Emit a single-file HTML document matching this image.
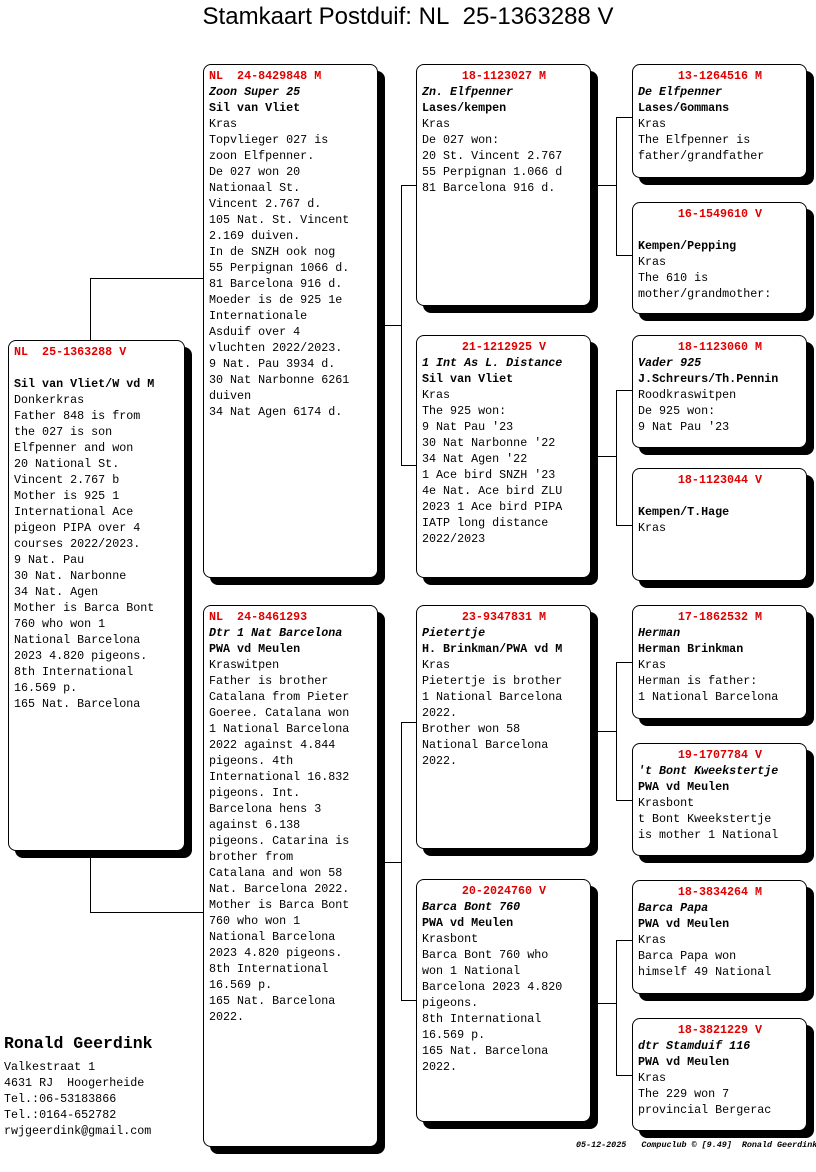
<!DOCTYPE html>
<html><head><meta charset="utf-8"><style>
body{margin:0;width:816px;height:1172px;background:#fff;position:relative;overflow:hidden;font-family:"Liberation Mono","Courier New",monospace;font-size:11.7px;color:#000}
.t{position:absolute;left:0;top:3px;width:816px;text-align:center;font-family:"Liberation Sans",sans-serif;font-size:24px}
.b{position:absolute;border:1px solid #000;border-radius:8px;box-shadow:7px 7px 0 #000;background:#fff;padding:3px 4px 0 5px;box-sizing:border-box;line-height:16px;white-space:pre;overflow:hidden}
.h{color:#e00000;font-weight:bold;text-align:center}
.hl{color:#e00000;font-weight:bold}
.bo{font-weight:bold}
.i{font-style:italic;font-weight:bold}
.l{position:absolute;background:#000}
.f{position:absolute;font-size:11.7px;line-height:16px;white-space:pre}
</style></head><body>
<div class="t">Stamkaart Postduif: NL&nbsp; 25-1363288 V</div>

<!-- connectors -->
<div class="l" style="left:90px;top:278px;width:1px;height:62px"></div>
<div class="l" style="left:90px;top:278px;width:113px;height:1px"></div>
<div class="l" style="left:90px;top:850px;width:1px;height:62px"></div>
<div class="l" style="left:90px;top:912px;width:113px;height:1px"></div>

<div class="l" style="left:377px;top:325px;width:24px;height:1px"></div>
<div class="l" style="left:401px;top:185px;width:1px;height:281px"></div>
<div class="l" style="left:401px;top:185px;width:15px;height:1px"></div>
<div class="l" style="left:401px;top:465px;width:15px;height:1px"></div>

<div class="l" style="left:377px;top:862px;width:24px;height:1px"></div>
<div class="l" style="left:401px;top:722px;width:1px;height:279px"></div>
<div class="l" style="left:401px;top:722px;width:15px;height:1px"></div>
<div class="l" style="left:401px;top:1000px;width:15px;height:1px"></div>

<div class="l" style="left:590px;top:185px;width:26px;height:1px"></div>
<div class="l" style="left:616px;top:117px;width:1px;height:139px"></div>
<div class="l" style="left:616px;top:117px;width:16px;height:1px"></div>
<div class="l" style="left:616px;top:255px;width:16px;height:1px"></div>

<div class="l" style="left:590px;top:456px;width:26px;height:1px"></div>
<div class="l" style="left:616px;top:390px;width:1px;height:136px"></div>
<div class="l" style="left:616px;top:390px;width:16px;height:1px"></div>
<div class="l" style="left:616px;top:525px;width:16px;height:1px"></div>

<div class="l" style="left:590px;top:731px;width:26px;height:1px"></div>
<div class="l" style="left:616px;top:662px;width:1px;height:139px"></div>
<div class="l" style="left:616px;top:662px;width:16px;height:1px"></div>
<div class="l" style="left:616px;top:800px;width:16px;height:1px"></div>

<div class="l" style="left:590px;top:1003px;width:26px;height:1px"></div>
<div class="l" style="left:616px;top:940px;width:1px;height:136px"></div>
<div class="l" style="left:616px;top:940px;width:16px;height:1px"></div>
<div class="l" style="left:616px;top:1075px;width:16px;height:1px"></div>

<!-- main -->
<div class="b" style="left:8px;top:340px;width:177px;height:511px"><span class="hl">NL  25-1363288 V</span>

<span class="bo">Sil van Vliet/W vd M</span>
Donkerkras
Father 848 is from
the 027 is son
Elfpenner and won
20 National St.
Vincent 2.767 b
Mother is 925 1
International Ace
pigeon PIPA over 4
courses 2022/2023.
9 Nat. Pau
30 Nat. Narbonne
34 Nat. Agen
Mother is Barca Bont
760 who won 1
National Barcelona
2023 4.820 pigeons.
8th International
16.569 p.
165 Nat. Barcelona</div>

<!-- col2 -->
<div class="b" style="left:203px;top:64px;width:175px;height:514px"><span class="hl">NL  24-8429848 M</span>
<span class="i">Zoon Super 25</span>
<span class="bo">Sil van Vliet</span>
Kras
Topvlieger 027 is
zoon Elfpenner.
De 027 won 20
Nationaal St.
Vincent 2.767 d.
105 Nat. St. Vincent
2.169 duiven.
In de SNZH ook nog
55 Perpignan 1066 d.
81 Barcelona 916 d.
Moeder is de 925 1e
Internationale
Asduif over 4
vluchten 2022/2023.
9 Nat. Pau 3934 d.
30 Nat Narbonne 6261
duiven
34 Nat Agen 6174 d.</div>

<div class="b" style="left:203px;top:605px;width:175px;height:542px"><span class="hl">NL  24-8461293</span>
<span class="i">Dtr 1 Nat Barcelona</span>
<span class="bo">PWA vd Meulen</span>
Kraswitpen
Father is brother
Catalana from Pieter
Goeree. Catalana won
1 National Barcelona
2022 against 4.844
pigeons. 4th
International 16.832
pigeons. Int.
Barcelona hens 3
against 6.138
pigeons. Catarina is
brother from
Catalana and won 58
Nat. Barcelona 2022.
Mother is Barca Bont
760 who won 1
National Barcelona
2023 4.820 pigeons.
8th International
16.569 p.
165 Nat. Barcelona
2022.</div>

<!-- col3 -->
<div class="b" style="left:416px;top:64px;width:175px;height:242px"><div class="h">18-1123027 M</div><span class="i">Zn. Elfpenner</span>
<span class="bo">Lases/kempen</span>
Kras
De 027 won:
20 St. Vincent 2.767
55 Perpignan 1.066 d
81 Barcelona 916 d.</div>

<div class="b" style="left:416px;top:335px;width:175px;height:243px"><div class="h">21-1212925 V</div><span class="i">1 Int As L. Distance</span>
<span class="bo">Sil van Vliet</span>
Kras
The 925 won:
9 Nat Pau '23
30 Nat Narbonne '22
34 Nat Agen '22
1 Ace bird SNZH '23
4e Nat. Ace bird ZLU
2023 1 Ace bird PIPA
IATP long distance
2022/2023</div>

<div class="b" style="left:416px;top:605px;width:175px;height:244px"><div class="h">23-9347831 M</div><span class="i">Pietertje</span>
<span class="bo">H. Brinkman/PWA vd M</span>
Kras
Pietertje is brother
1 National Barcelona
2022.
Brother won 58
National Barcelona
2022.</div>

<div class="b" style="left:416px;top:879px;width:175px;height:243px"><div class="h">20-2024760 V</div><span class="i">Barca Bont 760</span>
<span class="bo">PWA vd Meulen</span>
Krasbont
Barca Bont 760 who
won 1 National
Barcelona 2023 4.820
pigeons.
8th International
16.569 p.
165 Nat. Barcelona
2022.</div>

<!-- col4 -->
<div class="b" style="left:632px;top:64px;width:175px;height:114px"><div class="h">13-1264516 M</div><span class="i">De Elfpenner</span>
<span class="bo">Lases/Gommans</span>
Kras
The Elfpenner is
father/grandfather</div>

<div class="b" style="left:632px;top:202px;width:175px;height:112px"><div class="h">16-1549610 V</div>
<span class="bo">Kempen/Pepping</span>
Kras
The 610 is
mother/grandmother:</div>

<div class="b" style="left:632px;top:335px;width:175px;height:113px"><div class="h">18-1123060 M</div><span class="i">Vader 925</span>
<span class="bo">J.Schreurs/Th.Pennin</span>
Roodkraswitpen
De 925 won:
9 Nat Pau '23</div>

<div class="b" style="left:632px;top:468px;width:175px;height:113px"><div class="h">18-1123044 V</div>
<span class="bo">Kempen/T.Hage</span>
Kras</div>

<div class="b" style="left:632px;top:605px;width:175px;height:114px"><div class="h">17-1862532 M</div><span class="i">Herman</span>
<span class="bo">Herman Brinkman</span>
Kras
Herman is father:
1 National Barcelona</div>

<div class="b" style="left:632px;top:743px;width:175px;height:113px"><div class="h">19-1707784 V</div><span class="i">'t Bont Kweekstertje</span>
<span class="bo">PWA vd Meulen</span>
Krasbont
t Bont Kweekstertje
is mother 1 National</div>

<div class="b" style="left:632px;top:880px;width:175px;height:114px"><div class="h">18-3834264 M</div><span class="i">Barca Papa</span>
<span class="bo">PWA vd Meulen</span>
Kras
Barca Papa won
himself 49 National</div>

<div class="b" style="left:632px;top:1018px;width:175px;height:113px"><div class="h">18-3821229 V</div><span class="i">dtr Stamduif 116</span>
<span class="bo">PWA vd Meulen</span>
Kras
The 229 won 7
provincial Bergerac</div>

<!-- footer -->
<div class="f" style="left:4px;top:1034px;font-size:16.5px;font-weight:bold;line-height:20px">Ronald Geerdink</div>
<div class="f" style="left:4px;top:1059px">Valkestraat 1
4631 RJ  Hoogerheide
Tel.:06-53183866
Tel.:0164-652782
rwjgeerdink@gmail.com</div>
<div class="f" style="left:576px;top:1137px;font-size:8.4px;font-style:italic;font-weight:bold">05-12-2025   Compuclub © [9.49]  Ronald Geerdink</div>
</body></html>
